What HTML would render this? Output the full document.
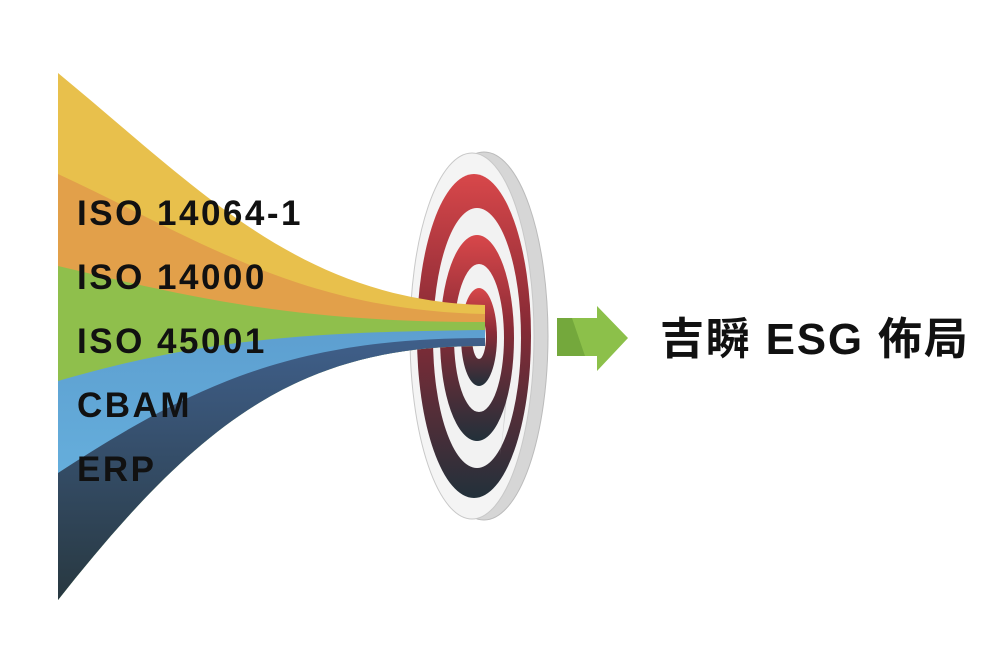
<!DOCTYPE html>
<html><head><meta charset="utf-8"><style>
html,body{margin:0;padding:0;background:#fff;width:1000px;height:666px;overflow:hidden}
svg{display:block}
text{font-family:"Liberation Sans","Noto Sans CJK TC",sans-serif;font-weight:bold;fill:#111}
</style></head><body>
<svg width="1000" height="666" viewBox="0 0 1000 666">
<defs>
<linearGradient id="rg" x1="0" y1="0" x2="0" y2="1">
<stop offset="0" stop-color="#d8474a"/><stop offset="0.45" stop-color="#8a2b36"/><stop offset="1" stop-color="#22303a"/>
</linearGradient>
<linearGradient id="dk" x1="0" y1="0" x2="0" y2="1">
<stop offset="0" stop-color="#3f5f8a"/><stop offset="1" stop-color="#283840"/>
</linearGradient>
<linearGradient id="bl" x1="0" y1="0" x2="0" y2="1">
<stop offset="0" stop-color="#5d9fd0"/><stop offset="1" stop-color="#6cbbe6"/>
</linearGradient>
</defs>
<ellipse cx="484" cy="336" rx="64" ry="184" fill="#d6d6d6" stroke="#bbb"/>
<ellipse cx="472" cy="336" rx="62" ry="183" fill="#f4f4f4" stroke="#c8c8c8"/>
<ellipse cx="474" cy="336" rx="57" ry="162" fill="url(#rg)"/>
<ellipse cx="477" cy="338" rx="44" ry="130" fill="#f2f2f2"/>
<path d="M490 240 Q520 330 500 455 Q515 350 490 240Z" fill="#cfcfcf"/>
<ellipse cx="477" cy="338" rx="37" ry="103" fill="url(#rg)"/>
<ellipse cx="479" cy="338" rx="25" ry="74" fill="#f2f2f2"/>
<ellipse cx="479" cy="337" rx="18" ry="49" fill="url(#rg)"/>
<ellipse cx="479" cy="337" rx="7" ry="22" fill="#f4f4f4"/>
<path d="M58 73 C200 190 300 300 485 305 L485 346 C300 345 200 420 58 600Z" fill="#e8c04c"/>
<path d="M58 174 C200 240 300 310 485 314 L485 346 C300 345 200 420 58 600Z" fill="#e2a04a"/>
<path d="M58 266 C200 300 300 322 485 322 L485 346 C300 345 200 420 58 600Z" fill="#8fbf4c"/>
<path d="M58 381 C200 340 300 332 485 330 L485 346 C300 345 200 420 58 600Z" fill="url(#bl)"/>
<path d="M58 473 C200 380 300 338 485 338 L485 346 C300 345 200 420 58 600Z" fill="url(#dk)"/>
<path d="M557 318 L597 318 L597 306 L628 338 L597 371 L597 356 L557 356Z" fill="#8cc04a"/>
<path d="M557 318 L572 318 L585 356 L557 356Z" fill="#74a83c"/>
<g font-size="35" letter-spacing="2.5">
<text x="77" y="225">ISO 14064-1</text>
<text x="77" y="289">ISO 14000</text>
<text x="77" y="353">ISO 45001</text>
<text x="77" y="417">CBAM</text>
<text x="77" y="481">ERP</text>
</g>
<text x="660" y="354" font-size="44" letter-spacing="1.8">吉瞬 ESG 佈局</text>
</svg>
</body></html>
